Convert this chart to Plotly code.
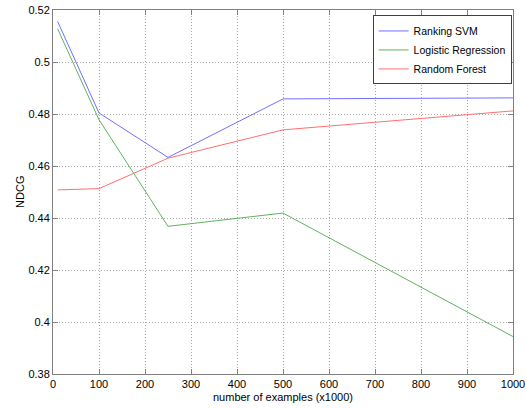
import plotly.graph_objects as go

x_vals = [10, 100, 250, 500, 1000]
ranking_svm = [0.5156, 0.4804, 0.4633, 0.4858, 0.4862]
logistic_regression = [0.5128, 0.4778, 0.4368, 0.4419, 0.3944]
random_forest = [0.4508, 0.4513, 0.4630, 0.4739, 0.4812]

x_ticks = [0, 100, 200, 300, 400, 500, 600, 700, 800, 900, 1000]
y_ticks = [0.38, 0.40, 0.42, 0.44, 0.46, 0.48, 0.50, 0.52]
y_labels = ["0.38", "0.4", "0.42", "0.44", "0.46", "0.48", "0.5", "0.52"]

fig = go.Figure()
fig.add_trace(go.Scatter(x=x_vals, y=ranking_svm, mode="lines", name="Ranking SVM",
                         line=dict(color="#6f6fff", width=1)))
fig.add_trace(go.Scatter(x=x_vals, y=logistic_regression, mode="lines", name="Logistic Regression",
                         line=dict(color="#5fb35f", width=1)))
fig.add_trace(go.Scatter(x=x_vals, y=random_forest, mode="lines", name="Random Forest",
                         line=dict(color="#ff6f6f", width=1)))

font = dict(family="Liberation Sans, Arial, sans-serif", size=11, color="#000000")

fig.update_layout(
    width=526, height=408,
    margin=dict(l=53, r=13, t=10, b=34, autoexpand=False),
    paper_bgcolor="white", plot_bgcolor="white",
    font=font,
    showlegend=True,
    legend=dict(x=0.997, y=0.985, xanchor="right", yanchor="top",
                bgcolor="white", bordercolor="#404040", borderwidth=1,
                font=dict(family="Liberation Sans, Arial, sans-serif", size=10.5),
                tracegroupgap=0, itemwidth=30),
    xaxis=dict(range=[0, 1000], tickvals=x_ticks, ticktext=[str(t) for t in x_ticks],
               showgrid=True, gridcolor="#a8a8a8", griddash="1px,2px", gridwidth=1,
               showline=True, linecolor="#808080", linewidth=1, mirror="ticks",
               ticks="inside", ticklen=5, tickcolor="#808080",
               zeroline=False, automargin=True,
               title=dict(text="number of examples (x1000)", standoff=4,
                          font=dict(size=11))),
    yaxis=dict(range=[0.38, 0.52], tickvals=y_ticks, ticktext=y_labels,
               showgrid=True, gridcolor="#a8a8a8", griddash="1px,2px", gridwidth=1,
               showline=True, linecolor="#808080", linewidth=1, mirror="ticks",
               ticks="inside", ticklen=5, tickcolor="#808080",
               zeroline=False, automargin=True),
    annotations=[dict(text="NDCG", textangle=-90, xref="paper", yref="paper",
                      x=-0.072, y=0.5, xanchor="center", yanchor="middle",
                      showarrow=False, font=dict(size=11))],
)

fig.write_html("out.html", config={"displayModeBar": False},
               post_script="document.body.style.margin='0';document.body.style.overflow='hidden';")
